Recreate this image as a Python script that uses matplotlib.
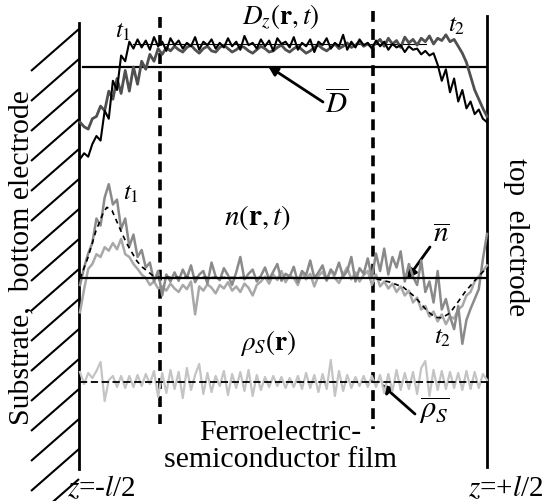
import numpy as np
import matplotlib
matplotlib.use("Agg")
import matplotlib.pyplot as plt

plt.rcParams['font.family'] = ['Liberation Serif', 'DejaVu Serif']
plt.rcParams['mathtext.fontset'] = 'stix'

# ---------------- data ----------------
N = 100
z_grid = np.linspace(-0.5, 0.5, N)

# D_z(r,t) normalised by Dbar, time t1 (black) and t2 (dark grey)
D_t1 = [0.20, 0.25, 0.22, 0.33, 0.40, 0.36, 0.62, 0.55, 0.88, 0.80, 1.10, 1.05, 1.22, 1.16,
        1.24, 1.17, 1.23, 1.15, 1.26, 1.18, 1.22, 1.14, 1.25, 1.19, 1.23, 1.16, 1.21, 1.18, 1.26, 1.15, 1.22, 1.19, 1.24, 1.16,
        1.21, 1.17, 1.25, 1.18, 1.22, 1.15, 1.27, 1.19, 1.21, 1.16, 1.24, 1.18, 1.23, 1.14, 1.25, 1.20, 1.22, 1.17, 1.26, 1.15,
        1.21, 1.18, 1.24, 1.13, 1.22, 1.19, 1.25, 1.16, 1.21, 1.18, 1.28, 1.15, 1.22, 1.17, 1.24, 1.19, 1.21, 1.16, 1.23, 1.18,
        1.22, 1.15, 1.20, 1.17, 1.19, 1.13, 1.18, 1.15, 1.16, 1.11, 1.14, 1.10,
        1.12, 1.02, 0.88, 0.98, 0.78, 0.90, 0.70, 0.80, 0.64, 0.70, 0.59, 0.63, 0.55, 0.52]
D_t2 = [0.52, 0.48, 0.46, 0.55, 0.57, 0.66, 0.62, 0.79, 0.72, 0.90, 0.77, 0.97, 0.79, 1.00, 0.85, 1.05, 0.98, 1.11, 1.05, 1.16, 1.11, 1.17,
        1.14, 1.18, 1.15, 1.13, 1.17, 1.19, 1.15, 1.12, 1.16, 1.18, 1.14, 1.13, 1.17, 1.19, 1.16, 1.13, 1.15, 1.18, 1.17, 1.14,
        1.12, 1.15, 1.18, 1.16, 1.13, 1.14, 1.17, 1.19, 1.15, 1.13, 1.16, 1.18, 1.15, 1.12, 1.14, 1.17, 1.19, 1.16, 1.14, 1.17,
        1.20, 1.16, 1.18, 1.21, 1.17, 1.19, 1.22, 1.18, 1.20, 1.17, 1.21,
        1.24, 1.18, 1.25, 1.20, 1.23, 1.17, 1.26, 1.21, 1.24, 1.19, 1.25, 1.22, 1.27, 1.20, 1.25, 1.23, 1.28, 1.22,
        1.24, 1.18, 1.12, 1.04, 0.92, 0.80, 0.72, 0.64, 0.57]
D_bar = 1.0
D_plateau = 1.2

# n(r,t) : two snapshots and the mean profile (dashed)
n_t1 = [-0.10, 0.15, 0.35, 0.50, 0.85, 0.75, 1.15, 1.34, 1.05, 1.12, 0.70, 0.85, 0.45, 0.62, 0.30, 0.40, 0.15, 0.22, -0.05, 0.10, -0.25, 0.05, -0.05,
        0.08, -0.04, 0.12, 0.00, 0.18, -0.06, 0.05, 0.10, -0.08, 0.22, 0.02, -0.03, 0.14, 0.04, -0.10, 0.08, 0.30, -0.02, 0.06, 0.12,
        -0.05, 0.03, 0.15, -0.02, 0.09, 0.20, -0.04, 0.06, 0.02, 0.16, -0.06, 0.10, 0.04, 0.25, 0.00, 0.08, 0.18, -0.03, 0.12, 0.05,
        0.22, 0.02, 0.10, 0.30, -0.05, 0.14, 0.06, 0.28, 0.00,
        0.35, 0.10, 0.42, 0.05, 0.30, 0.15, 0.38, -0.05, 0.20, 0.02, -0.10, 0.25, -0.20, -0.05, -0.35, 0.10, -0.45, -0.30, -0.55, -0.73,
        -0.40, -0.94, -0.60, -0.44, -0.30, -0.16, 0.27, 0.63]
n_t2 = [-0.49, -0.16, 0.13, 0.20, 0.34, 0.30, 0.44, 0.39, 0.50, 0.41, 0.56, 0.34, 0.30, 0.20, 0.13, 0.05, 0.00, -0.10, -0.05, -0.15,
        -0.12, -0.18, -0.08, -0.15, -0.20, -0.10, -0.16, -0.05, -0.52, -0.12, -0.18, -0.09, -0.14, -0.22, -0.10, -0.15, -0.06, -0.18,
        -0.12, -0.20, -0.08, -0.14, -0.25, -0.10, -0.05,
        0.02, -0.08, 0.05, -0.03, 0.10, -0.06, 0.04, 0.00, -0.10, 0.08, -0.02, 0.06, -0.12, 0.03, 0.09, -0.04, 0.12, 0.00, -0.07, 0.05,
        0.15, -0.02, 0.08, -0.05, 0.04, 0.10,
        -0.10, 0.05, -0.12, -0.05, -0.15, -0.08, -0.20, -0.12, -0.25, -0.18, -0.35, -0.28, -0.45, -0.40, -0.55, -0.48, -0.62, -0.52,
        -0.66, -0.55, -0.58, -0.45, -0.40, -0.25, -0.20, -0.05, 0.02, 0.10, 0.18]
n_mean_z = [-0.5, -0.480, -0.461, -0.443, -0.434, -0.421, -0.409, -0.397, -0.385, -0.372, -0.360, -0.348, -0.335, -0.316,
            0.220, 0.262, 0.294, 0.323, 0.353, 0.372, 0.389, 0.409, 0.429, 0.446, 0.471, 0.490, 0.5]
n_mean = [-0.01, 0.30, 0.67, 0.93, 1.01, 0.96, 0.80, 0.64, 0.49, 0.36, 0.24, 0.16, 0.10, 0.01,
          0.0, -0.06, -0.13, -0.27, -0.47, -0.56, -0.57, -0.50, -0.34, -0.20, -0.03, 0.09, 0.13]

# rho_S(r)
rho_S = [0.50, -0.10, 0.45, 0.20, 0.55, 1.00, -0.95, 0.10, 0.30, -0.25, 0.30, -0.30, 0.30, -0.25, 0.35, -0.20, 0.40, -0.10, 0.55, -0.75,
         0.45, -0.55, 0.60, -0.35, 0.50, -0.80, 0.70, -0.40, 0.35, 0.90, -0.60, 0.45, -0.50, 0.30, -0.20, 0.55, -0.65, 0.40, -0.30, 0.50,
         -0.45, 0.60, -0.70, 0.35, -0.40, 0.25, -0.25, 0.30, -0.20, 0.25, -0.30, 0.20, -0.25, 0.30, -0.35, 0.45, -0.30, 0.35, -0.50, 0.40,
         -0.35, 1.10, -0.70, 0.55, -0.45, 0.35, -0.30, 0.25, -0.20, 0.30, -0.25, 0.30, -0.25, 0.35, -0.55, 0.40, -0.45, 0.60, -0.40, 0.45,
         -0.35, 0.50, -0.60, 0.70, 1.05, -0.70, 0.60, -0.40, 0.55, -0.35, 0.50, -0.30, 0.45, -0.40, 0.55, -0.35, 0.50, -0.30, 0.40, 0.10]

z_interfaces = [-0.303, 0.220]

# ---------------- figure ----------------
W, H = 548, 502
fig = plt.figure(figsize=(W / 100, H / 100), dpi=100)

# pixel-coordinate canvas for the schematic
base = fig.add_axes([0, 0, 1, 1])
base.set_xlim(0, W)
base.set_ylim(H, 0)
base.axis('off')

X0, X1 = 80, 487  # film edges in pixels


def panel(y_top, y_bot, ref_px, px_per_unit, ref_val):
    ax = fig.add_axes([X0 / W, 1 - y_bot / H, (X1 - X0) / W, (y_bot - y_top) / H])
    ax.set_xlim(-0.5, 0.5)
    ax.set_ylim(ref_val - (y_bot - ref_px) / px_per_unit, ref_val + (ref_px - y_top) / px_per_unit)
    ax.axis('off')
    ax.patch.set_alpha(0)
    return ax


# substrate hatching and electrodes
for k in range(16):
    yk = 30 + 30 * k
    base.plot([31, 79], [yk + 42, yk], color='k', lw=1.5, solid_capstyle='butt')
base.plot([79, 79], [24, 470], color='k', lw=2)
base.plot([X1, X1], [17, 468], color='k', lw=2)

# D panel
axD = panel(0, 180, 68, 115, D_bar)
axD.plot([-0.492, 0.5], [D_bar, D_bar], color='k', lw=1.6, zorder=2)
axD.plot([-0.37, 0.35], [D_plateau, D_plateau], color='k', lw=0.8, zorder=1)
axD.plot(z_grid, D_t2, color='#505050', lw=2.0, zorder=3, clip_on=False)
axD.plot(z_grid, D_t1, color='black', lw=1.5, zorder=4, clip_on=False)

# n panel
axN = panel(160, 370, 279, 70, 0.0)
axN.plot(z_grid, n_t2, color='#a8a8a8', lw=1.8, zorder=2, clip_on=False)
axN.plot(z_grid, n_t1, color='#8a8a8a', lw=1.8, zorder=3, clip_on=False)
axN.plot([-0.5, 0.5], [0, 0], color='k', lw=1.6, zorder=4)
axN.plot(n_mean_z, n_mean, color='k', lw=1.2, ls=(0, (3, 2.5)), zorder=5)

# rho panel
axR = panel(350, 420, 383, 20, 0.0)
axR.plot(z_grid, rho_S, color='#c4c4c4', lw=1.6, zorder=2, clip_on=False)
axR.plot([-0.5, 0.5], [0, 0], color='k', lw=1.3, ls=(0, (4, 2)), zorder=3)

# interface dashed lines
for zi, (yt, yb) in zip(z_interfaces, [(18, 425), (12, 430)]):
    xp = X0 + (zi + 0.5) * (X1 - X0)
    base.plot([xp, xp], [yt, yb], color='k', lw=2.6, ls=(0, (3, 2)))

# arrows
ap = dict(arrowstyle='-|>', color='k', lw=2.0, mutation_scale=14, shrinkA=0, shrinkB=0)
base.annotate('', xy=(268, 67), xytext=(323, 103), arrowprops=ap)
base.annotate('', xy=(407, 280), xytext=(430, 248), arrowprops=ap)
base.annotate('', xy=(381, 385), xytext=(415, 415), arrowprops=ap)

# text
mfs = 19.5
kw = dict(ha='center', va='center')
base.text(281, 17, r'$D_z(\mathbf{r},t)$', fontsize=mfs, **kw)
base.text(123, 32, r'$t_1$', fontsize=18, **kw)
base.text(457, 26, r'$t_2$', fontsize=18, **kw)
base.text(337, 105, r'$\overline{D}$', fontsize=21, **kw)
base.text(258, 218, r'$n(\mathbf{r},t)$', fontsize=21, **kw)
base.text(131, 194, r'$t_1$', fontsize=18, **kw)
base.text(443, 338, r'$t_2$', fontsize=18, **kw)
base.text(441, 235, r'$\overline{n}$', fontsize=21, **kw)
base.text(268, 343, r'$\rho_S(\mathbf{r})$', fontsize=mfs, **kw)
base.text(434, 411, r'$\overline{\rho_S}$', fontsize=22, **kw)
base.text(280, 440, 'Ferroelectric-', fontsize=21.5, ha='center', va='baseline')
base.text(281, 467, 'semiconductor film', fontsize=21.5, ha='center', va='baseline')
base.text(101, 488, r'$z$=-$l$/2', fontsize=21, **kw)
base.text(506, 488, r'$z$=+$l$/2', fontsize=21, **kw)
base.text(21, 258, 'Substrate,  bottom electrode', fontsize=21.5, rotation=90, **kw)
base.text(516, 237, 'top  electrode', fontsize=21, rotation=-90, **kw)

fig.savefig('out.png', dpi=100)
